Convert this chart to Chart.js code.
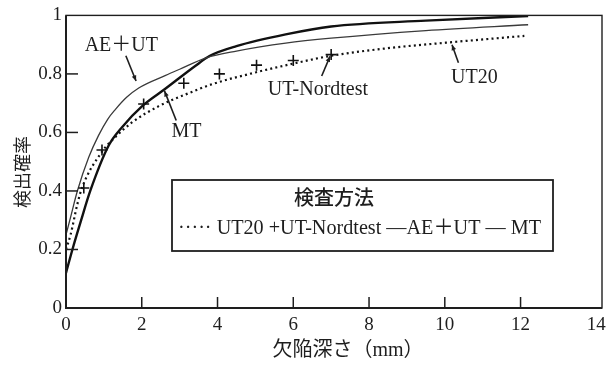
<!DOCTYPE html>
<html>
<head>
<meta charset="utf-8">
<script src="https://cdn.jsdelivr.net/npm/chart.js@4.4.1/dist/chart.umd.min.js"></script>
<style>
  html, body { margin: 0; padding: 0; background: #fff; }
  #c { display: block; }
</style>
</head>
<body>
<canvas id="c" width="616" height="366"></canvas>
<script>
// ---- data ----
const xTicks = [0, 2, 4, 6, 8, 10, 12, 14];
const yTicks = [0, 0.2, 0.4, 0.6, 0.8, 1];

const ut20X = [0, 0.12, 0.3, 0.42, 0.95, 1.3, 1.75, 2.45, 3.16, 3.86, 5.0, 5.82, 7.0, 8.5, 10.14, 12.1];
const ut20Y = [0.20, 0.25, 0.355, 0.41, 0.534, 0.584, 0.635, 0.69, 0.73, 0.765, 0.805, 0.83, 0.862, 0.888, 0.908, 0.93];

const nordX = [0.47, 0.95, 2.05, 3.11, 4.05, 5.03, 6.0, 7.0];
const nordY = [0.41, 0.54, 0.697, 0.768, 0.80, 0.83, 0.846, 0.866];

const aeutX = [0, 0.12, 0.3, 0.6, 0.86, 1.1, 1.3, 1.6, 1.92, 2.63, 3.0, 3.7, 4.5, 5.8, 7.0, 9.5, 12.2];
const aeutY = [0.25, 0.31, 0.40, 0.515, 0.59, 0.645, 0.678, 0.72, 0.752, 0.795, 0.816, 0.855, 0.878, 0.905, 0.922, 0.948, 0.968];

const mtX = [0, 0.17, 0.4, 0.64, 1.13, 1.48, 2.01, 2.63, 3.42, 3.8, 4.5, 5.8, 7.0, 9.5, 12.2];
const mtY = [0.12, 0.20, 0.30, 0.40, 0.556, 0.618, 0.69, 0.75, 0.828, 0.862, 0.895, 0.935, 0.962, 0.982, 0.998];

const legendTitle = '検査方法';
const legendText = '····· UT20 +UT-Nordtest —AE＋UT — MT';
const xTitle = '欠陥深さ（mm）';
const yTitle = '検出確率';

// annotation labels: text, text position, arrow from -> to (data coords)
const notes = [
  { text: 'AE＋UT', x: 1.46, y: 0.897, ax0: 1.58, ay0: 0.862, ax1: 1.85, ay1: 0.776 },
  { text: 'MT', x: 3.18, y: 0.601, ax0: 2.91, ay0: 0.641, ax1: 2.60, ay1: 0.742 },
  { text: 'UT-Nordtest', x: 6.65, y: 0.745, ax0: 6.75, ay0: 0.793, ax1: 6.97, ay1: 0.860 },
  { text: 'UT20', x: 10.78, y: 0.787, ax0: 10.36, ay0: 0.838, ax1: 10.19, ay1: 0.900 }
];

const pts = (xs, ys) => xs.map((x, i) => ({ x: x, y: ys[i] }));

const SERIF = "'Liberation Serif', 'Noto Sans CJK JP', serif";
const INK = '#1e1e1e';

function arrow(ctx, x0, y0, x1, y1) {
  ctx.beginPath();
  ctx.moveTo(x0, y0);
  ctx.lineTo(x1, y1);
  ctx.stroke();
  const a = Math.atan2(y1 - y0, x1 - x0);
  const L = 6, W = 0.4;
  ctx.beginPath();
  ctx.moveTo(x1, y1);
  ctx.lineTo(x1 - L * Math.cos(a - W), y1 - L * Math.sin(a - W));
  ctx.lineTo(x1 - L * Math.cos(a + W), y1 - L * Math.sin(a + W));
  ctx.closePath();
  ctx.fill();
}

const decor = {
  id: 'decor',
  afterDraw(chart) {
    const ctx = chart.ctx;
    const ca = chart.chartArea;
    const xs = chart.scales.x, ys = chart.scales.y;
    ctx.save();
    ctx.strokeStyle = INK;
    ctx.fillStyle = INK;
    // frame
    ctx.lineWidth = 1.4;
    ctx.strokeRect(ca.left, ca.top, ca.right - ca.left, ca.bottom - ca.top);
    ctx.lineWidth = 2;
    ctx.beginPath();
    ctx.moveTo(ca.left, ca.top);
    ctx.lineTo(ca.left, ca.bottom);
    ctx.lineTo(ca.right, ca.bottom);
    ctx.stroke();
    // inward ticks
    ctx.lineWidth = 1.5;
    yTicks.forEach(v => {
      if (v <= 0 || v >= 1) return;
      const py = ys.getPixelForValue(v);
      ctx.beginPath(); ctx.moveTo(ca.left, py); ctx.lineTo(ca.left + 12, py); ctx.stroke();
    });
    xTicks.forEach(v => {
      if (v <= 0 || v >= 14) return;
      const px = xs.getPixelForValue(v);
      ctx.beginPath(); ctx.moveTo(px, ca.bottom); ctx.lineTo(px, ca.bottom - 11); ctx.stroke();
    });
    // axis titles
    ctx.font = "18px 'Noto Sans CJK JP'";
    ctx.textAlign = 'center';
    ctx.textBaseline = 'middle';
    ctx.save();
    ctx.translate(22, 172);
    ctx.rotate(-Math.PI / 2);
    ctx.fillText(yTitle, 0, 0);
    ctx.restore();
    ctx.font = "20px " + SERIF;
    ctx.fillText(xTitle, 348, 351);
    // annotations
    ctx.font = "20px " + SERIF;
    ctx.lineWidth = 1.6;
    notes.forEach(n => {
      ctx.fillText(n.text, xs.getPixelForValue(n.x), ys.getPixelForValue(n.y));
      arrow(ctx, xs.getPixelForValue(n.ax0), ys.getPixelForValue(n.ay0),
                 xs.getPixelForValue(n.ax1), ys.getPixelForValue(n.ay1));
    });
    // legend box
    ctx.fillStyle = '#fff';
    ctx.fillRect(172, 180, 381, 71);
    ctx.fillStyle = INK;
    ctx.lineWidth = 1.8;
    ctx.strokeRect(172, 180, 381, 71);
    ctx.font = "500 20px 'Noto Sans CJK JP'";
    ctx.fillText(legendTitle, 334, 197);
    ctx.font = "20.5px " + SERIF;
    ctx.textAlign = 'left';
    ctx.fillText(legendText, 178, 229, 363);
    ctx.restore();
  }
};

new Chart(document.getElementById('c'), {
  type: 'line',
  data: {
    datasets: [
      { label: 'UT20', data: pts(ut20X, ut20Y), borderColor: '#111', borderWidth: 2.2,
        borderDash: [2, 3.2], pointRadius: 0, cubicInterpolationMode: 'monotone', fill: false },
      { label: 'UT-Nordtest', data: pts(nordX, nordY), showLine: false, pointStyle: 'cross',
        pointRadius: 5.5, pointBorderWidth: 1.6, pointBorderColor: '#111', borderColor: '#111' },
      { label: 'AE+UT', data: pts(aeutX, aeutY), borderColor: '#3a3a3a', borderWidth: 1.3,
        pointRadius: 0, cubicInterpolationMode: 'monotone', fill: false },
      { label: 'MT', data: pts(mtX, mtY), borderColor: '#111', borderWidth: 2.4,
        pointRadius: 0, cubicInterpolationMode: 'monotone', fill: false }
    ]
  },
  options: {
    responsive: false,
    animation: false,
    devicePixelRatio: 1,
    layout: { padding: { top: 12, right: 14, left: 0, bottom: 0 } },
    plugins: { legend: { display: false }, tooltip: { enabled: false } },
    scales: {
      x: {
        type: 'linear', min: 0, max: 14.15,
        afterBuildTicks: s => { s.ticks = xTicks.map(v => ({ value: v })); },
        afterFit: s => { s.height = 58; },
        grid: { display: false, drawTicks: false },
        border: { display: false },
        ticks: { color: INK, font: { family: SERIF, size: 19 }, padding: 6, maxRotation: 0, autoSkip: false }
      },
      y: {
        type: 'linear', min: 0, max: 1,
        afterBuildTicks: s => { s.ticks = yTicks.map(v => ({ value: v })); },
        afterFit: s => { s.width = 66; },
        grid: { display: false, drawTicks: false },
        border: { display: false },
        ticks: { color: INK, font: { family: SERIF, size: 19 }, padding: 4, autoSkip: false,
          callback: v => (v === 0 || v === 1) ? String(v) : v.toFixed(1) }
      }
    }
  },
  plugins: [decor]
});
</script>
</body>
</html>
